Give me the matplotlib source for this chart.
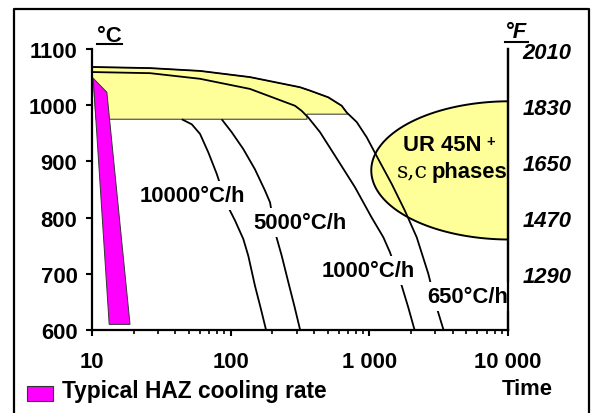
import matplotlib
matplotlib.use("Agg")
import matplotlib.pyplot as plt
import numpy as np
from matplotlib.lines import Line2D
from matplotlib.patches import Polygon, Rectangle
from matplotlib.ticker import FixedLocator, FixedFormatter, LogLocator, NullFormatter

plt.rcParams['font.family'] = ['Liberation Sans', 'DejaVu Sans']
plt.rcParams['font.weight'] = 'bold'

W, H = 597, 414
FS = 15.8

# cooling curves: time (log) vs temperature (°C)
t_10000 = [44.4, 52.4, 60.1, 69.0, 79.3, 93.6, 107.4, 123.3, 134.0, 149.6, 165.4, 180]
c_10000 = [975, 966, 949, 916, 878, 824, 795, 762, 732, 679, 637, 600]

t_5000 = [86.1, 101.7, 123.3, 149.6, 176.9, 192.3, 209.0, 233.5, 260.5, 287.8, 317]
c_5000 = [975, 952, 922, 886, 848, 827, 774, 732, 685, 643, 600]

t_1000 = [10, 26.2, 60.1, 137.7, 291, 325, 363, 441, 597, 788, 1040, 1262, 1410,
          1711, 1910, 2120]
c_1000 = [1059, 1057, 1047, 1029, 999, 990, 978, 952, 901, 854, 800, 765, 738,
          679, 640, 600]

t_650 = [10, 26.2, 60.1, 137.7, 316, 373, 506, 632, 687, 811, 957, 1161, 1449,
         1807, 2196, 2663, 3060, 3430]
c_650 = [1068, 1066, 1061, 1050, 1032, 1026, 1014, 999, 987, 970, 943, 904, 860,
         812, 765, 700, 640, 600]

# solution annealing band (yellow), closed below the 650°C/h curve
band_t = [10, 26.2, 60.1, 137.7, 316, 373, 506, 632, 687, 700, 355, 355, 10.7, 10.2, 10]
band_c = [1068, 1066, 1061, 1050, 1032, 1026, 1014, 999, 987, 984, 984, 975, 975, 1048, 1048]

# typical HAZ cooling (magenta)
haz_t = [10.2, 12.8, 18.8, 13.3]
haz_c = [1048, 1023, 610, 610]

# sigma / chi precipitation nose (ellipse in log-time)
nose_log_t = 4.014
nose_half_dec = 1.0
nose_c = 884
nose_half_c = 123

c_ticks = [600, 700, 800, 900, 1000, 1100]
f_ticks = [2010, 1830, 1650, 1470, 1290]
t_ticks = [10, 100, 1000, 10000]
t_labels = ['10', '100', '1 000', '10 000']

curves = [(t_10000, c_10000), (t_5000, c_5000), (t_1000, c_1000), (t_650, c_650)]
labels = [('10000°C/h', 22.2, 829.5), ('5000°C/h', 144.9, 781.5),
          ('1000°C/h', 456, 696), ('650°C/h', 2606, 650)]


def fx(x):
    return x / W


def fy(y):
    return 1 - y / H


fig = plt.figure(figsize=(W / 100, H / 100), dpi=100)
ax = fig.add_axes([fx(92), fy(331), 416 / W, 281 / H])
ax.set_xscale('log')
ax.set_xlim(10, 10000)
ax.set_ylim(600, 1100)

ax.add_patch(Polygon(np.column_stack([band_t, band_c]), closed=True,
                     facecolor='#ffff99', edgecolor='#444444', lw=0.8, zorder=1))

th = np.linspace(0, 2 * np.pi, 240)
ell_t = 10 ** (nose_log_t + nose_half_dec * np.cos(th))
ell_c = nose_c + nose_half_c * np.sin(th)
ax.add_patch(Polygon(np.column_stack([ell_t, ell_c]), closed=True,
                     facecolor='#ffff99', edgecolor='black', lw=1.4, zorder=1))

for t, c in curves:
    ax.plot(t, c, color='black', lw=1.3, zorder=2, solid_capstyle='butt',
            solid_joinstyle='round')

ax.add_patch(Polygon(np.column_stack([haz_t, haz_c]), closed=True,
                     facecolor='#ff00ff', edgecolor='#333333', lw=0.7, zorder=3))

for txt, t, c in labels:
    ax.text(t, c, txt, fontsize=FS, ha='left', va='baseline', zorder=4,
            bbox=dict(boxstyle='square,pad=0.2', facecolor='white', edgecolor='none'))

ax.text(1750, 920, 'UR 45N', fontsize=FS, ha='left', va='baseline', zorder=4)
ax.text(7534, 937, '+', fontsize=10.5, ha='center', va='center', zorder=4)
ax.text(1581, 874, 's,c', fontsize=16, ha='left', va='baseline', zorder=4,
        family='DejaVu Serif', weight='normal')
ax.text(2800, 872, 'phases', fontsize=FS, ha='left', va='baseline', zorder=4)

for s in ['left', 'bottom', 'right']:
    ax.spines[s].set_linewidth(1.6)
ax.spines['top'].set_visible(False)

ax.yaxis.set_major_locator(FixedLocator(c_ticks))
ax.xaxis.set_major_locator(FixedLocator(t_ticks))
ax.xaxis.set_major_formatter(FixedFormatter(t_labels))
ax.xaxis.set_minor_locator(LogLocator(base=10, subs=np.arange(2, 10)))
ax.xaxis.set_minor_formatter(NullFormatter())
ax.tick_params(axis='y', which='major', length=4.5, width=1.5, pad=6, labelsize=FS)
ax.tick_params(axis='x', which='major', length=4.5, width=1.5, pad=10.5, labelsize=FS)
ax.tick_params(axis='x', which='minor', length=3, width=1.2)

ax2 = ax.twinx()
ax2.set_ylim(600 * 1.8 + 32, 1100 * 1.8 + 32)
ax2.yaxis.set_major_locator(FixedLocator(f_ticks))
ax2.tick_params(axis='y', length=0, pad=10.5, labelsize=FS)
for lab in ax2.get_yticklabels():
    lab.set_fontstyle('italic')
for s in ['left', 'top', 'bottom']:
    ax2.spines[s].set_visible(False)
ax2.spines['right'].set_linewidth(1.6)

# unit headings
fig.text(fx(97), fy(42), '°C', fontsize=FS, ha='left', va='baseline')
fig.add_artist(Line2D([fx(97), fx(122)], [fy(44.5), fy(44.5)], color='black', lw=1.5))
fig.text(fx(505), fy(38), '°F', fontsize=FS, ha='left', va='baseline', style='italic')
fig.add_artist(Line2D([fx(505), fx(528)], [fy(42.5), fy(42.5)], color='black', lw=1.5))

fig.text(fx(502), fy(395), 'Time', fontsize=FS, ha='left', va='baseline')

# legend
fig.add_artist(Rectangle((fx(27), fy(402)), 26 / W, 15 / H, facecolor='#ff00ff',
                         edgecolor='#333333', lw=0.8))
fig.text(fx(62), fy(398), 'Typical HAZ cooling rate', fontsize=16.4, ha='left',
         va='baseline')

# outer frame
fig.add_artist(Line2D([fx(14), fx(14), fx(589), fx(589)], [fy(414), fy(10), fy(10), fy(414)],
                      color='black', lw=1.6))

fig.savefig('out.png', dpi=100)
